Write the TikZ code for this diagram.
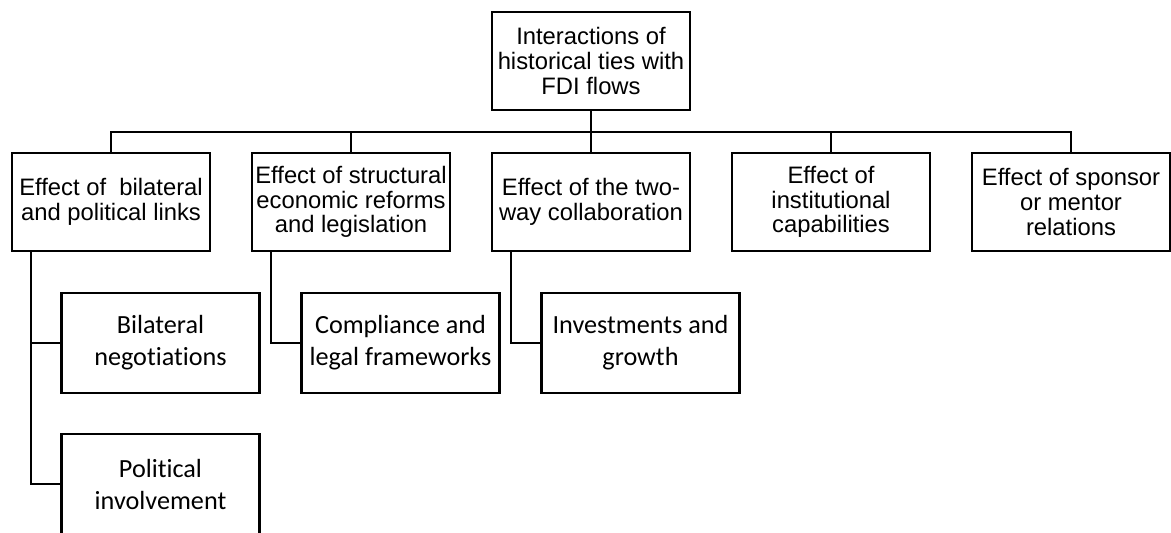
\documentclass[tikz,border=0pt]{standalone}
\usepackage{fontspec}
\setmainfont{Liberation Sans}
\newfontfamily\calibrifont[Ligatures=NoCommon]{Carlito}
\usetikzlibrary{positioning}

\tikzset{
  box/.style={draw, line width=1.1pt, inner sep=0pt, align=center,
    minimum width=99pt, minimum height=49pt, font=\fontsize{11.9}{12.4}\selectfont},
  subbox/.style={box, minimum height=50pt, font=\calibrifont\fontsize{13.1}{16}\selectfont},
}

\begin{document}
\begin{tikzpicture}[x=0.5pt, y=-0.5pt]
\useasboundingbox (0,0) rectangle (1171,532);

\node[box] (top) at (591,61) {Interactions of\\historical ties with\\FDI flows};

\node[box] (bilat)  at (111,202)  {Effect of\ \ bilateral\\and political links};
\node[box] (reform) at (351,202)  {Effect of structural\\economic reforms\\and legislation};
\node[box] (collab) at (591,202)  {Effect of the two-\\way collaboration};
\node[box] (instit) at (831,202)  {Effect of\\institutional\\capabilities};
\node[box] (mentor) at (1071,202) {Effect of sponsor\\or mentor\\relations};

\node[subbox] (negot)  at (160.5,343) {Bilateral\\negotiations};
\node[subbox] (polit)  at (160.5,484) {Political\\involvement};
\node[subbox] (legal)  at (400.5,343) {Compliance and\\legal frameworks};
\node[subbox] (growth) at (640.5,343) {Investments and\\growth};

\coordinate (bus) at (0,132);

\begin{scope}[line width=1.1pt]
\draw (top.south) -- (top.south |- bus);
\draw (bilat.north) -- (bilat.north |- bus) -| (mentor.north);
\draw (reform.north) -- (reform.north |- bus);
\draw (collab.north) -- (collab.north |- bus);
\draw (instit.north) -- (instit.north |- bus);

\draw ([xshift=10pt]bilat.south west) |- (negot.west);
\draw ([xshift=10pt]bilat.south west) |- (polit.west);
\draw ([xshift=10pt]reform.south west) |- (legal.west);
\draw ([xshift=10pt]collab.south west) |- (growth.west);
\end{scope}

\end{tikzpicture}
\end{document}
